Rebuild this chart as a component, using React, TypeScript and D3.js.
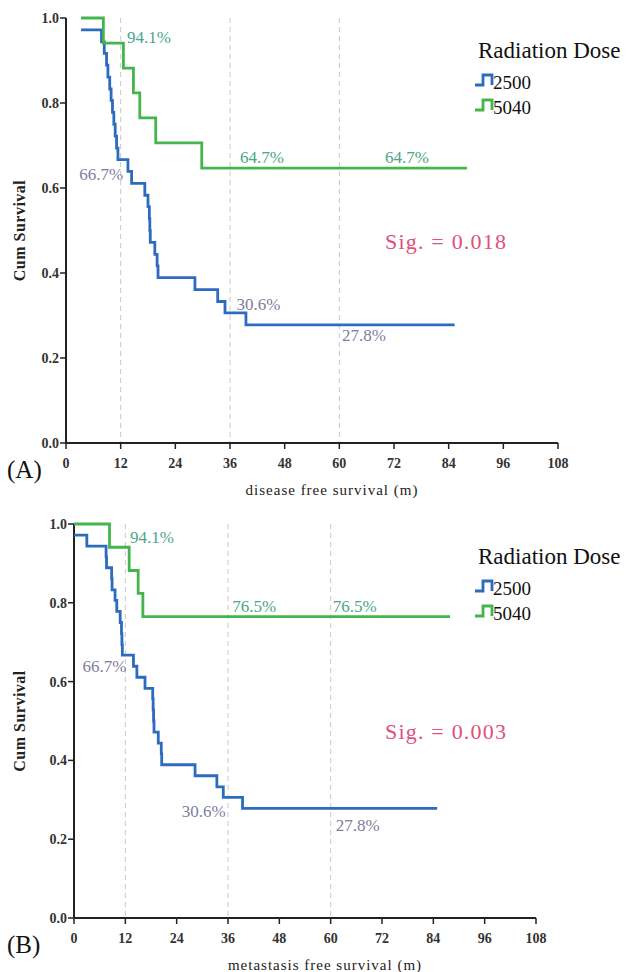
import React from "react";
import * as d3 from "d3";

// ---- data ----
const doseGroups = ["2500", "5040"];
const xTicks = [0, 12, 24, 36, 48, 60, 72, 84, 96, 108];
const yTicks = [0, 0.2, 0.4, 0.6, 0.8, 1.0];
const guideMonths = [12, 36, 60];

// (A) disease free survival
const dfsStartA = 3.3;
const dfs2500Times = [7.8, 8.4, 8.9, 9.2, 9.6, 9.9, 10.2, 10.5, 10.8, 11.1, 11.4, 13.6, 14.4, 17.3, 18.0, 18.3, 18.4, 18.5, 19.5, 20.0, 20.2, 28.3, 33.3, 34.9, 39.5];
const dfs2500Values = [0.944, 0.917, 0.889, 0.861, 0.833, 0.806, 0.778, 0.75, 0.722, 0.694, 0.667, 0.639, 0.611, 0.583, 0.556, 0.528, 0.5, 0.472, 0.444, 0.417, 0.389, 0.361, 0.333, 0.306, 0.278];
const dfs5040Times = [8.2, 12.6, 14.8, 16.2, 19.7, 29.8];
const dfs5040Values = [0.941, 0.882, 0.824, 0.765, 0.706, 0.647];
const dfsEnds = [85.3, 88.0];
const dfsSig = "Sig. = 0.018";

// (B) metastasis free survival
const mfsStartB = 0;
const mfs2500Times = [3.0, 7.5, 7.6, 8.8, 8.9, 9.6, 10.0, 10.8, 11.1, 11.2, 11.3, 13.9, 14.7, 16.6, 18.4, 18.5, 18.6, 18.7, 19.7, 20.4, 20.5, 28.3, 33.4, 34.9, 39.4];
const mfs2500Values = [0.944, 0.917, 0.889, 0.861, 0.833, 0.806, 0.778, 0.75, 0.722, 0.694, 0.667, 0.639, 0.611, 0.583, 0.556, 0.528, 0.5, 0.472, 0.444, 0.417, 0.389, 0.361, 0.333, 0.306, 0.278];
const mfs5040Times = [8.3, 12.9, 15.0, 16.1];
const mfs5040Values = [0.941, 0.882, 0.824, 0.765];
const mfsEnds = [84.9, 87.9];
const mfsSig = "Sig. = 0.003";

// percentage annotations: [text, month, value, group]
const dfsNotes: [string, number, number, number][] = [
  ["94.1%", 13.4, 0.941, 1],
  ["64.7%", 38.2, 0.659, 1],
  ["64.7%", 70.0, 0.659, 1],
  ["66.7%", 2.9, 0.619, 0],
  ["30.6%", 37.4, 0.313, 0],
  ["27.8%", 60.6, 0.24, 0],
];
const mfsNotes: [string, number, number, number][] = [
  ["94.1%", 13.1, 0.952, 1],
  ["76.5%", 37.0, 0.777, 1],
  ["76.5%", 60.5, 0.777, 1],
  ["66.7%", 2.0, 0.624, 0],
  ["30.6%", 25.2, 0.256, 0],
  ["27.8%", 61.2, 0.22, 0],
];

const lineColors = ["#2d6bbf", "#43b54a"];
const noteColors = ["#7f7c9f", "#4ba68a"];
const serif = "'Liberation Serif', 'Times New Roman', serif";

type PanelProps = {
  x0: number;
  x1: number;
  y0: number;
  y1: number;
  start: number;
  series: { times: number[]; values: number[]; end: number }[];
  notes: [string, number, number, number][];
  sig: string;
  tag: string;
  xTitle: string;
};

function Panel(p: PanelProps) {
  const x = d3.scaleLinear().domain([0, 108]).range([p.x0, p.x1]);
  const y = d3.scaleLinear().domain([0, 1]).range([p.y1, p.y0]);
  const step = d3
    .line<[number, number]>()
    .x((d) => x(d[0]))
    .y((d) => y(d[1]))
    .curve(d3.curveStepAfter);
  const startVals = [0.972, 1.0];
  const midY = (p.y0 + p.y1) / 2;
  const legX = 475;
  const legY = p.y0 + 40;
  return (
    <g>
      {guideMonths.map((m) => (
        <line key={m} x1={x(m)} x2={x(m)} y1={y(1)} y2={y(0)} stroke="#c9c9c9" strokeWidth={1} strokeDasharray="5,4" />
      ))}
      {/* axes */}
      <line x1={x(0)} x2={x(0)} y1={y(1)} y2={y(0)} stroke="#222" strokeWidth={2} />
      <line x1={x(0)} x2={x(108)} y1={y(0)} y2={y(0)} stroke="#222" strokeWidth={2} />
      {yTicks.map((t) => (
        <g key={t}>
          <line x1={x(0) - 6} x2={x(0)} y1={y(t)} y2={y(t)} stroke="#222" strokeWidth={1.5} />
          <text x={x(0) - 7} y={y(t)} dy="0.35em" textAnchor="end" fontSize={14} fontWeight="bold" fill="#333" fontFamily={serif}>
            {d3.format(".1f")(t)}
          </text>
        </g>
      ))}
      {xTicks.map((t) => (
        <g key={t}>
          <line x1={x(t)} x2={x(t)} y1={y(0)} y2={y(0) + 6} stroke="#222" strokeWidth={1.5} />
          <text x={x(t)} y={y(0) + 25} textAnchor="middle" fontSize={14} fontWeight="bold" fill="#333" fontFamily={serif}>
            {t}
          </text>
        </g>
      ))}
      <text transform={`translate(25,${midY}) rotate(-90)`} textAnchor="middle" fontSize={16} fontWeight="bold" fill="#222" fontFamily={serif} letterSpacing={0.5}>
        Cum Survival
      </text>
      <text x={(p.x0 + p.x1) / 2 + 20} y={y(0) + 52} textAnchor="middle" fontSize={15} fill="#222" fontFamily={serif} letterSpacing={1}>
        {p.xTitle}
      </text>
      <text x={7} y={y(0) + 35} fontSize={25} fill="#111" fontFamily={serif}>
        {p.tag}
      </text>
      {/* curves */}
      {p.series.map((s, i) => {
        const pts: [number, number][] = [[p.start, startVals[i]]];
        s.times.forEach((t, k) => pts.push([t, s.values[k]]));
        pts.push([s.end, s.values[s.values.length - 1]]);
        return <path key={i} d={step(pts) || ""} fill="none" stroke={lineColors[i]} strokeWidth={2.8} />;
      })}
      {p.notes.map((n, i) => (
        <text key={i} x={x(n[1])} y={y(n[2])} fontSize={17} fill={noteColors[n[3]]} fontFamily={serif}>
          {n[0]}
        </text>
      ))}
      <text x={385} y={midY + 18} fontSize={22} fill="#e0507a" fontFamily={serif} letterSpacing={1.2}>
        {p.sig}
      </text>
      {/* legend */}
      <text x={478} y={legY} fontSize={23} fill="#111" fontFamily={serif}>
        Radiation Dose
      </text>
      {doseGroups.map((g, i) => {
        const by = legY + 27 + i * 25;
        return (
          <g key={g}>
            <path
              d={`M${legX},${by} H${legX + 8} V${by - 10} H${legX + 17} V${by}`}
              fill="none"
              stroke={lineColors[i]}
              strokeWidth={2.8}
            />
            <text x={legX + 18} y={by + 4} fontSize={19} fill="#111" fontFamily={serif}>
              {g}
            </text>
          </g>
        );
      })}
    </g>
  );
}

export default function App() {
  return (
    <div style={{ position: "absolute", left: 0, top: 0 }}>
      <svg width={633} height={972} style={{ display: "block", background: "#fff" }}>
        <Panel
          x0={66}
          x1={558}
          y0={18}
          y1={443}
          start={dfsStartA}
          series={[
            { times: dfs2500Times, values: dfs2500Values, end: dfsEnds[0] },
            { times: dfs5040Times, values: dfs5040Values, end: dfsEnds[1] },
          ]}
          notes={dfsNotes}
          sig={dfsSig}
          tag="(A)"
          xTitle="disease free survival (m)"
        />
        <Panel
          x0={74}
          x1={536}
          y0={524}
          y1={918}
          start={mfsStartB}
          series={[
            { times: mfs2500Times, values: mfs2500Values, end: mfsEnds[0] },
            { times: mfs5040Times, values: mfs5040Values, end: mfsEnds[1] },
          ]}
          notes={mfsNotes}
          sig={mfsSig}
          tag="(B)"
          xTitle="metastasis free survival (m)"
        />
      </svg>
    </div>
  );
}
